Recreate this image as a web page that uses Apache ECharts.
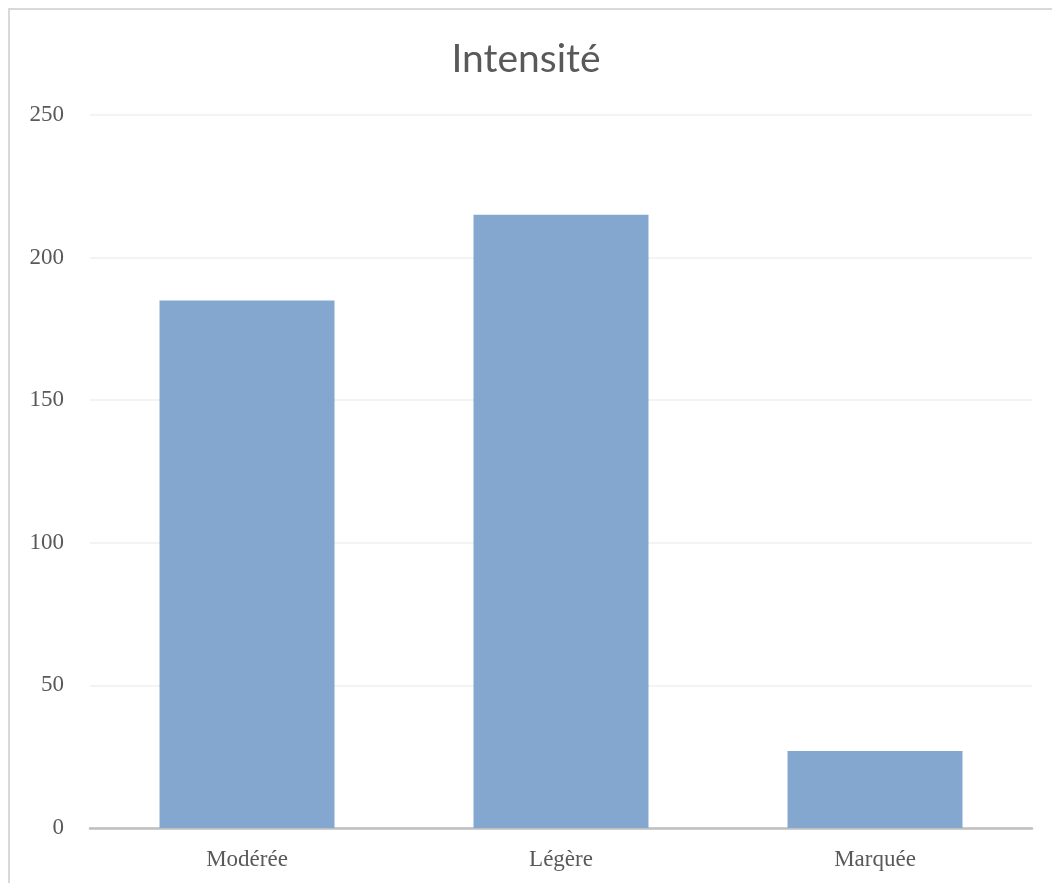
<!DOCTYPE html>
<html>
<head>
<meta charset="utf-8">
<script src="https://cdn.jsdelivr.net/npm/echarts@6/dist/echarts.min.js"></script>
<style>
  html, body { margin: 0; padding: 0; background: #fff; overflow: hidden; }
  #frame { position: absolute; left: 8px; top: 8px; width: 1100px; height: 1000px;
           border-left: 2px solid #d9d9d9; border-top: 2px solid #d9d9d9; }
  #chart { position: absolute; left: 0; top: 0; width: 1052px; height: 883px; }
</style>
</head>
<body>
<div id="frame"></div>
<div id="chart"></div>
<script>
const categories = ['Modérée', 'Légère', 'Marquée'];
const values = [185, 215, 27];
const yTicks = [0, 50, 100, 150, 200, 250];

const myChart = echarts.init(document.getElementById('chart'));
const option = {
    animation: false,
    title: {
        text: 'Intensité',
        left: 'center',
        top: 35,
        textStyle: {
            fontFamily: 'Lato',
            fontWeight: 'normal',
            fontSize: 39,
            color: '#595959'
        }
    },
    grid: {
        left: 90,
        right: 20,
        top: 115,
        bottom: 55,
        containLabel: false
    },
    xAxis: {
        type: 'category',
        data: categories,
        axisTick: { show: false },
        axisLine: { lineStyle: { color: '#bfbfbf', width: 2.5 } },
        axisLabel: {
            margin: 20,
            fontFamily: 'Liberation Serif',
            fontSize: 23,
            color: '#595959'
        }
    },
    yAxis: {
        type: 'value',
        min: yTicks[0],
        max: yTicks[yTicks.length - 1],
        interval: 50,
        axisLine: { show: false },
        axisTick: { show: false },
        splitLine: { lineStyle: { color: '#efefef', width: 1.5 } },
        axisLabel: {
            margin: 26,
            fontFamily: 'Liberation Serif',
            fontSize: 23,
            color: '#595959'
        }
    },
    series: [{
        type: 'bar',
        data: values,
        barWidth: 175,
        itemStyle: { color: '#84a7cf' }
    }]
};
myChart.setOption(option);
</script>
</body>
</html>
